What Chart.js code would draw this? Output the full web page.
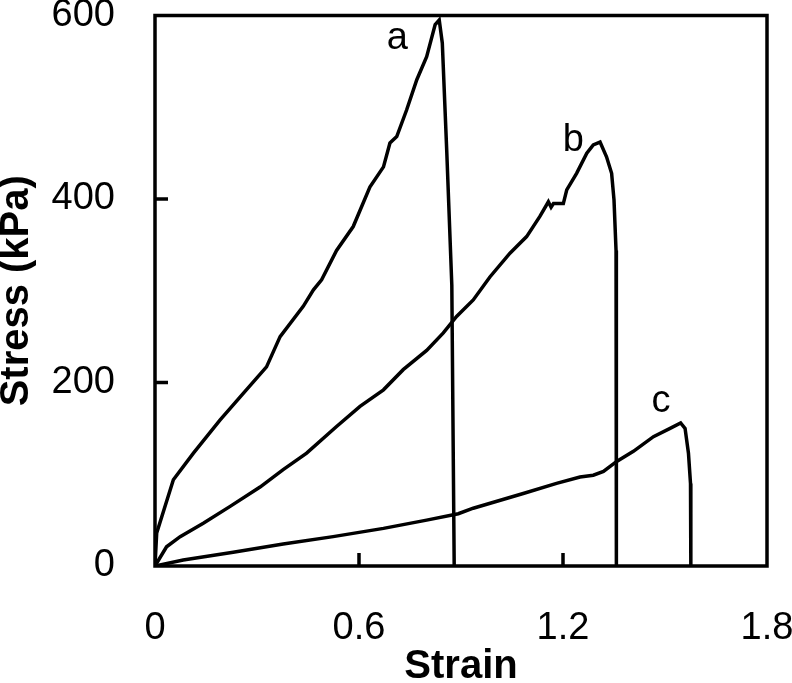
<!DOCTYPE html>
<html>
<head>
<meta charset="utf-8">
<script src="https://cdn.jsdelivr.net/npm/chart.js@4/dist/chart.umd.min.js"></script>
<style>
    html, body { margin: 0; padding: 0; background: #fff; overflow: hidden; }
    #wrap { width: 792px; height: 683px; }
</style>
</head>
<body>
<div id="wrap"><canvas id="myChart"></canvas></div>
<script>
// curve a
const strainA = [0, 0.005, 0.054, 0.113, 0.191, 0.25, 0.328, 0.368, 0.436, 0.466, 0.49, 0.534, 0.583, 0.632, 0.672, 0.691, 0.711, 0.74, 0.77, 0.799, 0.824, 0.836, 0.845, 0.858, 0.873, 0.88]
const stressA = [0, 36, 94, 123, 159, 184, 217, 250, 283, 301, 312, 344, 370, 413, 435, 461, 468, 497, 530, 555, 590, 595, 570, 453, 306, 0]
// curve b
const strainB = [0, 0.034, 0.074, 0.142, 0.221, 0.309, 0.377, 0.446, 0.534, 0.603, 0.672, 0.73, 0.799, 0.848, 0.887, 0.936, 0.985, 1.044, 1.093, 1.132, 1.157, 1.165, 1.172, 1.201, 1.211, 1.24, 1.27, 1.289, 1.309, 1.328, 1.343, 1.35, 1.356, 1.357]
const stressB = [0, 21, 32, 46.5, 65, 86, 105, 123, 152, 174, 192, 214, 235, 254, 272, 290, 315, 341, 359, 381, 397, 391, 395, 395, 410, 428, 450, 459, 462, 446, 428, 399, 344, 0]
// curve c
const strainC = [0, 0.083, 0.23, 0.377, 0.524, 0.672, 0.799, 0.892, 0.936, 1.083, 1.181, 1.25, 1.289, 1.319, 1.358, 1.407, 1.466, 1.515, 1.546, 1.559, 1.569, 1.575, 1.576]
const stressC = [0, 6.5, 15, 24, 32, 41, 50, 57, 63, 79, 90, 97, 99, 103, 114, 125, 141, 150, 156, 150, 123, 90, 0]

const xTicks = [0, 0.6, 1.2, 1.8]
const xTickLabels = ['0', '0.6', '1.2', '1.8']
const yTicks = [0, 200, 400, 600]
const yTickLabels = ['0', '200', '400', '600']

// letters next to the curves, anchored in data units
const curveNames = ['a', 'b', 'c']
const nameStrain = [0.713, 1.230, 1.488]
const nameStress = [564, 452, 168]

const FONT = '"Liberation Sans", Arial, sans-serif'
Chart.defaults.font.family = FONT
Chart.defaults.color = '#000'

const toPoints = (xs, ys) => xs.map((x, i) => ({ x: x, y: ys[i] }))

const lineStyle = {
    borderColor: '#000',
    borderWidth: 3.5,
    pointRadius: 0,
    tension: 0,
    fill: false
}

// frame, inward tick marks and the a/b/c letters
const framePlugin = {
    id: 'frame',
    afterDraw(chart) {
        const { ctx, chartArea: ca, scales } = chart
        ctx.save()
        ctx.strokeStyle = '#000'
        ctx.lineWidth = 3.5
        ctx.strokeRect(ca.left, ca.top, ca.right - ca.left, ca.bottom - ca.top)
        ctx.beginPath()
        xTicks.slice(1, -1).forEach(v => {
            const px = scales.x.getPixelForValue(v)
            ctx.moveTo(px, ca.bottom)
            ctx.lineTo(px, ca.bottom - 13)
        })
        yTicks.slice(1, -1).forEach(v => {
            const py = scales.y.getPixelForValue(v)
            ctx.moveTo(ca.left, py)
            ctx.lineTo(ca.left + 13, py)
        })
        ctx.stroke()
        ctx.fillStyle = '#000'
        ctx.font = '38px ' + FONT
        ctx.textAlign = 'center'
        ctx.textBaseline = 'alphabetic'
        curveNames.forEach((t, i) => {
            ctx.fillText(t, scales.x.getPixelForValue(nameStrain[i]), scales.y.getPixelForValue(nameStress[i]))
        })
        ctx.restore()
    }
}

new Chart(document.getElementById('myChart'), {
    type: 'line',
    data: {
        datasets: [
            { label: 'a', data: toPoints(strainA, stressA), ...lineStyle },
            { label: 'b', data: toPoints(strainB, stressB), ...lineStyle },
            { label: 'c', data: toPoints(strainC, stressC), ...lineStyle }
        ]
    },
    options: {
        responsive: true,
        maintainAspectRatio: false,
        animation: false,
        layout: { padding: { top: 15.5, right: 25, left: 0, bottom: 0 } },
        plugins: { legend: { display: false }, tooltip: { enabled: false } },
        scales: {
            x: {
                type: 'linear',
                min: 0,
                max: 1.8,
                afterBuildTicks: s => { s.ticks = xTicks.map(v => ({ value: v })) },
                afterFit: s => { s.height = 117; s.paddingLeft = 0; s.paddingRight = 0 },
                grid: { display: false },
                border: { display: false },
                ticks: {
                    padding: 32,
                    maxRotation: 0,
                    font: { size: 38 },
                    callback: v => xTickLabels[xTicks.indexOf(Math.round(v * 10) / 10)]
                },
                title: {
                    display: true,
                    text: 'Strain',
                    font: { size: 40, weight: 'bold', lineHeight: 0.8 },
                    padding: { top: 0, bottom: 0 }
                }
            },
            y: {
                min: 0,
                max: 600,
                afterBuildTicks: s => { s.ticks = yTicks.map(v => ({ value: v })) },
                afterFit: s => { s.width = 155; s.paddingTop = 0; s.paddingBottom = 0 },
                grid: { display: false },
                border: { display: false },
                ticks: {
                    padding: 32,
                    font: { size: 38 },
                    callback: v => yTickLabels[yTicks.indexOf(v)]
                },
                title: {
                    display: true,
                    text: 'Stress (kPa)',
                    font: { size: 40, weight: 'bold', lineHeight: 0.8 },
                    padding: { top: 1, bottom: 0 }
                }
            }
        }
    },
    plugins: [framePlugin]
})
</script>
</body>
</html>
